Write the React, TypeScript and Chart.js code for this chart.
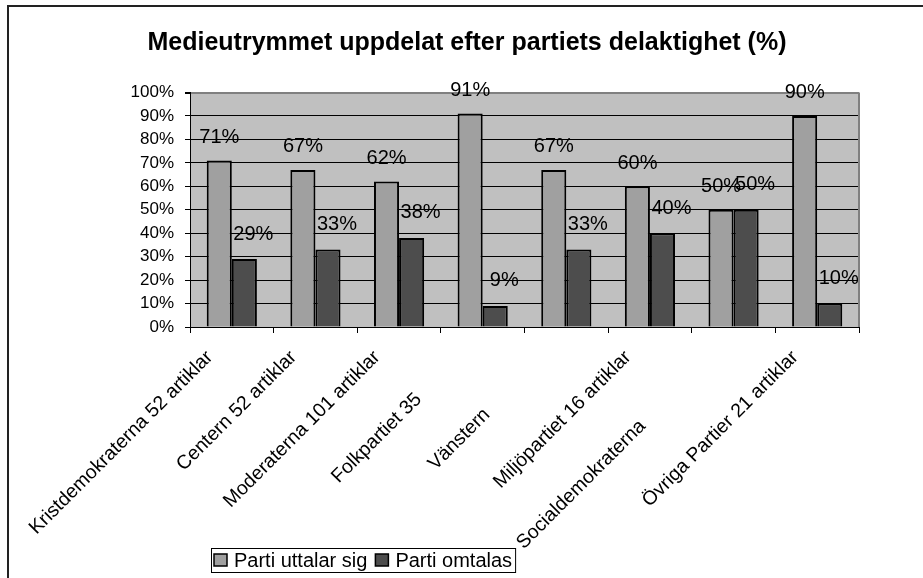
import React, { useEffect, useRef } from 'react';
import { Chart, registerables } from 'chart.js';

Chart.register(...registerables);

const titleText = 'Medieutrymmet uppdelat efter partiets delaktighet (%)';
const categories = [
  'Kristdemokraterna 52 artiklar',
  'Centern 52 artiklar',
  'Moderaterna 101 artiklar',
  'Folkpartiet 35',
  'Vänstern',
  'Miljöpartiet 16 artiklar',
  'Socialdemokraterna',
  'Övriga Partier 21 artiklar',
];
const seriesNames = ['Parti uttalar sig', 'Parti omtalas'];
const uttalarSig = [71, 67, 62, 91, 67, 60, 50, 90];
const omtalas = [29, 33, 38, 9, 33, 40, 50, 10];
const yTickValues = [0, 10, 20, 30, 40, 50, 60, 70, 80, 90, 100];

// style: hidden (clipped) tail length of truncated axis labels, in non-breaking spaces
const labelTailPad = [0, 0, 0, 11, 15, 0, 18, 0];
const seriesColors = ['#a0a0a0', '#4d4d4d'];
const labelShift = [
  { dx: 0, dy: 23 },
  { dx: 9, dy: 25 },
];

const FONT = '"Liberation Sans", Arial, Helvetica, sans-serif';

const framePlugin = {
  id: 'frame',
  beforeDraw(chart: any) {
    const { ctx, chartArea } = chart;
    ctx.save();
    ctx.fillStyle = '#ffffff';
    ctx.fillRect(0, 0, chart.width, chart.height);
    ctx.strokeStyle = '#222222';
    ctx.lineWidth = 2;
    ctx.beginPath();
    ctx.moveTo(8, chart.height + 2);
    ctx.lineTo(8, 6);
    ctx.lineTo(chart.width + 2, 6);
    ctx.stroke();
    ctx.fillStyle = '#c0c0c0';
    ctx.fillRect(chartArea.left, chartArea.top, chartArea.right - chartArea.left, chartArea.bottom - chartArea.top);
    // title
    ctx.fillStyle = '#000';
    ctx.font = 'bold 25px ' + FONT;
    ctx.textAlign = 'center';
    ctx.textBaseline = 'middle';
    ctx.fillText(titleText, chart.width / 2 + 5.5, 43);
    ctx.restore();
  },
  afterDraw(chart: any) {
    const { ctx, chartArea } = chart;
    ctx.save();
    // right plot border
    ctx.strokeStyle = '#808080';
    ctx.lineWidth = 2;
    ctx.beginPath();
    ctx.moveTo(chartArea.right, chartArea.top);
    ctx.lineTo(chartArea.right, chartArea.bottom);
    ctx.stroke();

    // legend
    ctx.font = '20px ' + FONT;
    ctx.textBaseline = 'middle';
    ctx.textAlign = 'left';
    const x0 = chartArea.left + 21;
    const top = chartArea.bottom + 221;
    const h = 24;
    const mw = 13;
    const mh = 12;
    let x = x0 + 3;
    const positions: number[] = [];
    seriesNames.forEach((name) => {
      positions.push(x);
      x += mw + 7 + ctx.measureText(name).width + 8;
    });
    const w = x - 8 + 3 - x0;
    ctx.fillStyle = '#fff';
    ctx.fillRect(x0, top, w, h);
    ctx.strokeStyle = '#000';
    ctx.lineWidth = 1;
    ctx.strokeRect(x0 + 0.5, top + 0.5, w, h);
    seriesNames.forEach((name, i) => {
      const px = positions[i];
      ctx.fillStyle = seriesColors[i];
      ctx.fillRect(px, top + 6, mw, mh);
      ctx.lineWidth = 1.5;
      ctx.strokeStyle = '#000';
      ctx.strokeRect(px, top + 6, mw, mh);
      ctx.fillStyle = '#000';
      ctx.fillText(name, px + mw + 7, top + h / 2 + 1);
    });
    ctx.restore();
  },
};

const dataLabelPlugin = {
  id: 'dataLabels',
  afterDatasetsDraw(chart: any) {
    const { ctx } = chart;
    ctx.save();
    ctx.font = '20px ' + FONT;
    ctx.fillStyle = '#000';
    ctx.textAlign = 'center';
    ctx.textBaseline = 'middle';
    chart.data.datasets.forEach((ds: any, di: number) => {
      const meta = chart.getDatasetMeta(di);
      const s = labelShift[di];
      meta.data.forEach((bar: any, i: number) => {
        ctx.fillText(ds.data[i] + '%', bar.x + s.dx, bar.y - s.dy);
      });
    });
    ctx.restore();
  },
};

export default function App() {
  const ref = useRef<HTMLCanvasElement | null>(null);
  useEffect(() => {
    if (!ref.current) return;
    const chart = new Chart(ref.current, {
      type: 'bar',
      data: {
        labels: categories,
        datasets: [
          {
            label: seriesNames[0],
            data: uttalarSig,
            backgroundColor: seriesColors[0],
            borderColor: '#000',
            borderWidth: 2,
          },
          {
            label: seriesNames[1],
            data: omtalas,
            backgroundColor: seriesColors[1],
            borderColor: '#000',
            borderWidth: 2,
          },
        ],
      },
      options: {
        responsive: false,
        animation: false,
        devicePixelRatio: 1,
        layout: { padding: { left: 10, right: 64, top: 92.5, bottom: 0 } },
        datasets: { bar: { categoryPercentage: 0.6, barPercentage: 1 } },
        plugins: {
          legend: { display: false },
          title: { display: false },
          tooltip: { enabled: false },
        },
        scales: {
          x: {
            ticks: {
              font: { size: 19.5, family: FONT },
              color: '#000',
              minRotation: 45,
              maxRotation: 45,
              autoSkip: false,
              padding: 13,
              labelOffset: -22,
              callback: (_v: any, i: number) => categories[i] + '\u00a0'.repeat(labelTailPad[i]),
            },
            grid: { drawOnChartArea: false, drawTicks: true, tickLength: 6, color: '#000', offset: true },
            border: { color: '#000', width: 1 },
            afterFit: (s: any) => {
              s.height = 251;
            },
          },
          y: {
            min: 0,
            max: 100,
            afterBuildTicks: (s: any) => {
              s.ticks = yTickValues.map((v) => ({ value: v }));
            },
            ticks: {
              font: { size: 17, family: FONT },
              color: '#000',
              padding: 11,
              callback: (v: any) => v + '%',
            },
            grid: {
              color: (c: any) => (c.tick && c.tick.value === 100 ? '#808080' : '#000'),
              lineWidth: (c: any) => (c.tick && c.tick.value === 100 ? 2 : 1),
              tickColor: '#000',
              tickLength: 5,
            },
            border: { color: '#000', width: 1 },
            afterFit: (s: any) => {
              s.width = 180;
            },
          },
        },
      },
      plugins: [framePlugin, dataLabelPlugin],
    });
    return () => chart.destroy();
  }, []);
  return (
    <div style={{ position: 'absolute', left: 0, top: 0, width: 923, height: 578 }}>
      <canvas ref={ref} width={923} height={578} style={{ display: 'block' }} />
    </div>
  );
}
